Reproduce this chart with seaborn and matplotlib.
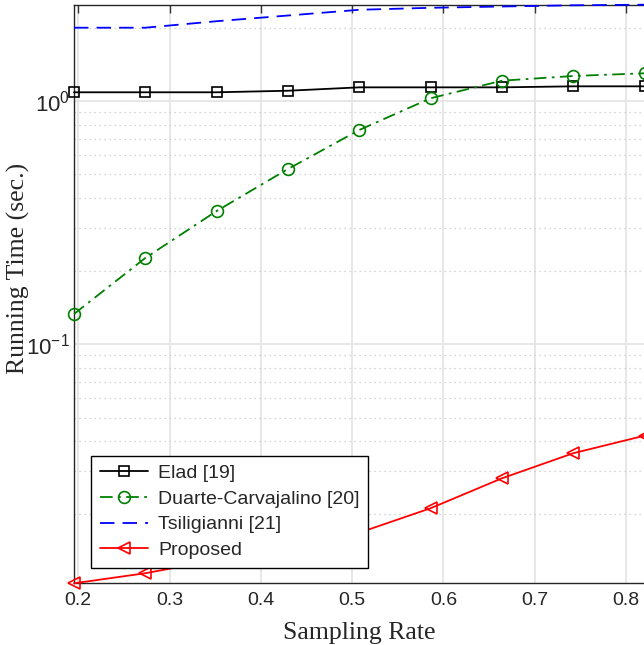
import numpy as np
import pandas as pd
import matplotlib
matplotlib.use("Agg")
import matplotlib.pyplot as plt
import seaborn as sns
from matplotlib.ticker import LogLocator, FixedLocator, NullFormatter

# ---- data ----
sampling_rate = [0.1953, 0.2734, 0.3516, 0.4297, 0.5078, 0.5859, 0.6641, 0.7422, 0.8203]
elad = [1.086, 1.086, 1.086, 1.102, 1.138, 1.138, 1.138, 1.149, 1.149]
duarte = [0.1332, 0.2263, 0.3530, 0.5254, 0.760, 1.026, 1.212, 1.267, 1.300]
tsiligianni = [2.001, 2.001, 2.128, 2.246, 2.371, 2.416, 2.446, 2.474, 2.488]
proposed = [0.01041, 0.01145, 0.01298, 0.01475, 0.0168, 0.02118, 0.02812, 0.03565, 0.04210]
series_names = ["Elad [19]", "Duarte-Carvajalino [20]", "Tsiligianni [21]", "Proposed"]
x_ticks = [0.2, 0.3, 0.4, 0.5, 0.6, 0.7, 0.8]

sns.set_style("white")
plt.rcParams["font.family"] = ["Liberation Sans", "DejaVu Sans"]
plt.rcParams["mathtext.default"] = "regular"

fig = plt.figure(figsize=(6.44, 6.45), dpi=100)
ax = fig.add_axes([74 / 644, 1 - 583.3 / 645, (644.5 - 74) / 644, (583.3 - 4.7) / 645])

styles = [
    dict(color="black", linestyle="-", marker="s", ms=7),
    dict(color="#008000", linestyle=(0, (7, 3, 1.5, 3)), marker="o", ms=8.5),
    dict(color="blue", linestyle=(0, (8, 4.5)), marker=None, ms=0),
    dict(color="red", linestyle="-", marker="<", ms=8.5),
]
all_series = [elad, duarte, tsiligianni, proposed]
for name, vals, st in zip(series_names, all_series, styles):
    df = pd.DataFrame({"rate": sampling_rate, "time": vals})
    kws = dict(color=st["color"], linestyle=st["linestyle"], linewidth=1.3, label=name)
    if st["marker"]:
        kws.update(marker=st["marker"], markersize=st["ms"], mfc="none",
                   mec=st["color"], mew=1.2)
    sns.lineplot(data=df, x="rate", y="time", ax=ax, **kws, clip_on=False, zorder=3)

ax.set_yscale("log")
ax.set_xlim(0.1953, 0.8203)
ax.set_ylim(min(proposed), max(tsiligianni))

ax.xaxis.set_major_locator(FixedLocator(x_ticks))
ax.set_xticklabels([f"{t:.1f}" for t in x_ticks])
ax.yaxis.set_major_locator(LogLocator(base=10))
ax.yaxis.set_minor_locator(LogLocator(base=10, subs=np.arange(2, 10)))
ax.yaxis.set_minor_formatter(NullFormatter())

ax.grid(True, which="major", color="#e3e3e3", linestyle="-", linewidth=1.2, zorder=0)
ax.grid(True, which="minor", axis="y", color="#c8c8c8", linestyle=(0, (1, 3)), linewidth=0.9, zorder=0)
ax.set_axisbelow(True)

ax.tick_params(axis="both", which="major", direction="in", length=6, width=1,
               top=True, right=False, labelsize=14, color="#333333", pad=6)
ax.tick_params(axis="y", which="minor", direction="in", length=3.5, width=0.8,
               right=False, color="#333333")
ax.tick_params(axis="y", which="major", labelsize=16, pad=3)
for s in ax.spines.values():
    s.set_color("#262626")
    s.set_linewidth(1.0)
ax.spines["right"].set_visible(False)

ax.set_xlabel("Sampling Rate", fontsize=18.5, family=["Liberation Serif"])
ax.set_ylabel("Running Time (sec.)", fontsize=18.5, family=["Liberation Serif"])
ax.xaxis.set_label_coords(0.5, -(622 - 583.3) / 578.6)
ax.yaxis.set_label_coords(-(74 - 30) / 570.5, (583.3 - 268) / 578.6)

leg = ax.legend(loc="lower left", bbox_to_anchor=(17 / 570.5, 15.3 / 578.6),
                fontsize=14, frameon=True, fancybox=False, framealpha=1,
                edgecolor="black", handlelength=2.5, borderpad=0.45,
                labelspacing=0.42, handletextpad=0.5, borderaxespad=0)
leg.get_frame().set_linewidth(1.0)

fig.savefig("out.png", dpi=100)
